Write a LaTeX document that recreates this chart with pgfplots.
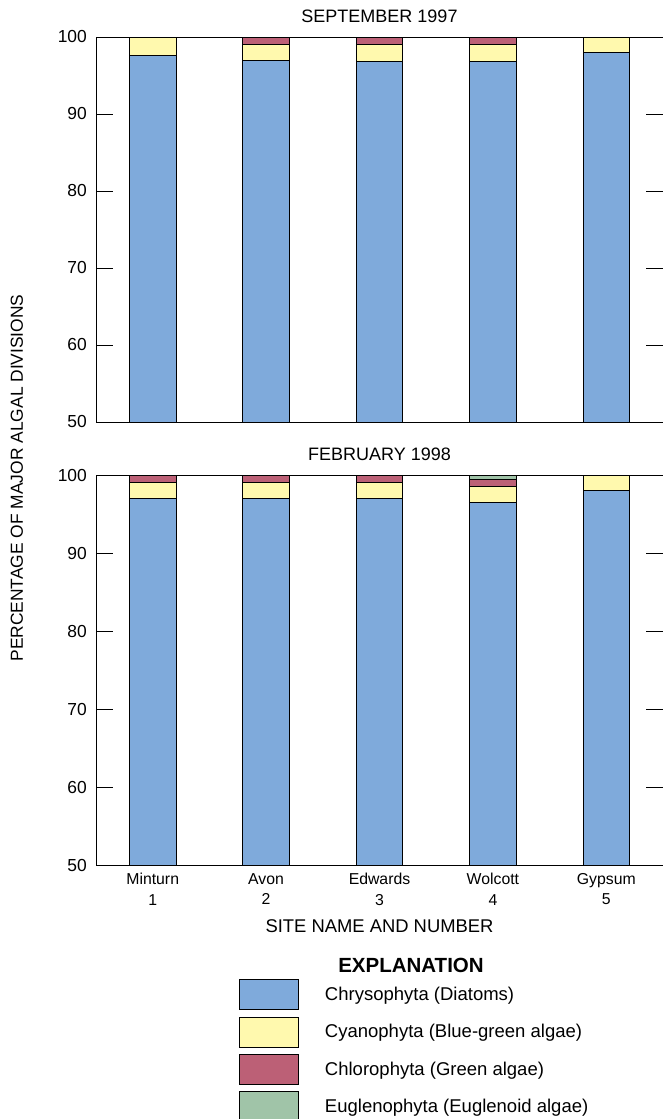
\documentclass[border=0pt]{standalone}
\usepackage{fontspec}
\setmainfont{Liberation Sans}
\usepackage{pgfplots}
\pgfplotsset{compat=1.18}
\definecolor{diat}{RGB}{127,170,219}
\definecolor{cyan}{RGB}{255,249,174}
\definecolor{chlor}{RGB}{188,96,118}
\definecolor{eugl}{RGB}{160,196,168}
\pgfplotsset{
  panel/.style={
    scale only axis, width=567pt,
    xmin=0.5, xmax=5.5, ymin=50, ymax=100,
    ybar stacked, bar width=0.41,
    xtick={1,2,3,4,5}, ytick={50,60,70,80,90,100},
    tick align=inside, major tick length=17pt,
    ytick pos=both, yticklabel pos=left,
    xtick style={draw=none},
    axis line style={line width=0.9pt, black},
    ytick style={line width=0.9pt, black},
    /pgf/number format/assume math mode=true,
    yticklabel style={font=\fontsize{17.4}{20}\selectfont, inner sep=0pt, xshift=-9pt},
    title style={font=\fontsize{18}{21}\selectfont, at={(axis description cs:0.5,1)}, anchor=base, yshift=9pt},
    clip=true,
  },
  bx/.style={fill=#1, draw=black, line width=0.8pt,
    legend image code/.code={\draw[fill=#1,draw=black,line width=0.8pt] (0pt,-15pt) rectangle (59pt,15pt);}},
}
\begin{document}
\begin{tikzpicture}[x=1pt,y=1pt]
\useasboundingbox (0,0) rectangle (663,-1119);

% Top panel: September 1997
\begin{axis}[panel, at={(96pt,-422pt)}, anchor=south west, height=385pt,
  title={SEPTEMBER 1997}, xticklabels=\empty]
\addplot[bx=diat] coordinates {(1,97.6) (2,97.0) (3,96.85) (4,96.85) (5,98.0)};
\addplot[bx=cyan] coordinates {(1,2.4) (2,2.0) (3,2.15) (4,2.15) (5,2.0)};
\addplot[bx=chlor] coordinates {(1,0) (2,1.0) (3,1.0) (4,1.0) (5,0)};
\end{axis}

% Bottom panel: February 1998
\begin{axis}[panel, at={(96pt,-865pt)}, anchor=south west, height=390pt,
  title={FEBRUARY 1998},
  xticklabels={{Minturn\\1},{Avon\\2},{Edwards\\3},{Wolcott\\4},{Gypsum\\5}},
  xticklabel style={align=center, font=\fontsize{15.8}{20.5}\selectfont, inner sep=0pt, yshift=-8pt},
  xlabel={SITE NAME AND NUMBER},
  xlabel style={font=\fontsize{18.4}{21}\selectfont, at={(axis description cs:0.5,0)}, anchor=base, yshift=-67pt},
  legend style={at={(axis description cs:0.2522,-0.2923)}, anchor=north west, draw=none, fill=none,
    inner sep=0pt, row sep=6.5pt, column sep=26pt, font=\fontsize{18.5}{22}\selectfont,
    nodes={inner sep=0pt}},
  legend cell align=left]
\addplot[bx=diat] coordinates {(1,97.0) (2,97.0) (3,97.0) (4,96.5) (5,98.0)};
\addplot[bx=cyan] coordinates {(1,2.0) (2,2.0) (3,2.0) (4,2.0) (5,2.0)};
\addplot[bx=chlor] coordinates {(1,1.0) (2,1.0) (3,1.0) (4,0.9) (5,0)};
\addplot[bx=eugl] coordinates {(1,0) (2,0) (3,0) (4,0.6) (5,0)};
\legend{Chrysophyta (Diatoms), Cyanophyta (Blue-green algae), Chlorophyta (Green algae), Euglenophyta (Euglenoid algae)}
\end{axis}

\node[rotate=90, font=\fontsize{17.4}{20}\selectfont] at (17,-478) {PERCENTAGE OF MAJOR ALGAL DIVISIONS};
\node[font=\bfseries\fontsize{20.5}{24}\selectfont] at (411,-965) {EXPLANATION};
\end{tikzpicture}
\end{document}
